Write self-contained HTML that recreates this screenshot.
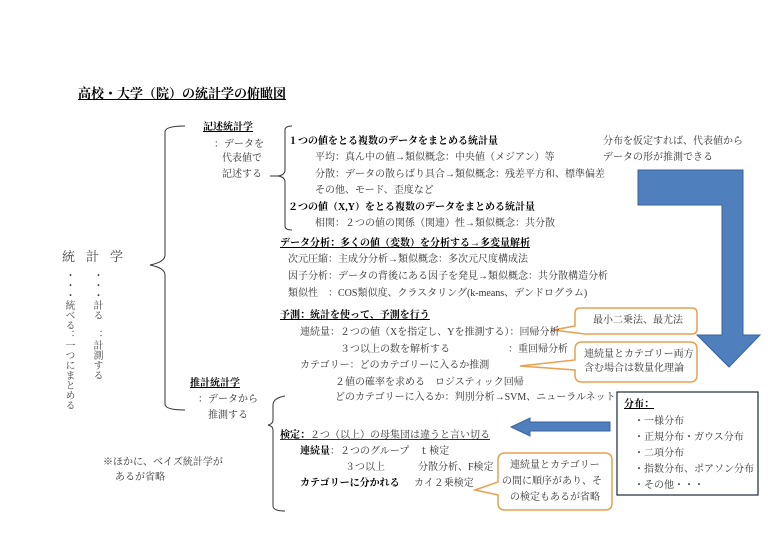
<!DOCTYPE html>
<html><head><meta charset="utf-8"><style>
body{margin:0;width:768px;height:544px;background:#fff;overflow:hidden;position:relative;font-family:"Liberation Serif","Noto Serif CJK SC","Noto Sans CJK JP",serif;color:#333;}
.t{position:absolute;font-size:10px;white-space:nowrap;line-height:12px;}
.b{font-weight:bold;color:#000;}
.u{text-decoration:underline;}
.v{position:absolute;writing-mode:vertical-rl;font-size:10px;line-height:12px;color:#444;letter-spacing:0px;}
svg{position:absolute;left:0;top:0;}
</style></head><body>
<svg width="768" height="544">
<g fill="none" stroke="#333" stroke-width="1">
<path d="M185,126 Q165,126 165,132 L165,255 Q165,262 150,265 Q165,268 165,275 L165,404 Q165,410 185,410"/>
<path d="M292,126 Q285,126 285,130 L285,170 Q285,175 278,176 Q285,177 285,182 L285,226 Q285,230 292,230"/>
<path d="M270,176 L278,176"/>
<path d="M285,396 Q273,398 273,405 L273,420 Q273,424 268,425 Q273,426 273,430 L273,506 Q273,511 285,511"/>
</g>
<polygon points="638,170 743,170 743,335 760,335 729,367 697,335 722,335 722,205 638,205" fill="#4f7fbd" stroke="#3a63a0" stroke-width="1"/>
<polygon points="610,422 530,422 530,418 511,427 530,436 530,431 610,431" fill="#4f7fbd" stroke="#3a63a0" stroke-width="1"/>
<rect x="617" y="392" width="141" height="103" fill="#fff" stroke="#1a2a3a" stroke-width="1.2"/>
<g fill="#fff" stroke="#e8a050" stroke-width="1.5">
<path d="M580,308 H692 Q697,308 697,313 V329 Q697,334 692,334 H585 L553,330 L575,326 V313 Q575,308 580,308 Z"/>
<path d="M582,342 H690 Q697,342 697,349 V375 Q697,382 690,382 H582 Q575,382 575,375 V370 L520,366 L575,360 V349 Q575,342 582,342 Z"/>
<path d="M505,453 H605 Q612,453 612,460 V503 Q612,510 605,510 H505 Q498,510 498,503 V495 L475,490 L498,482 V460 Q498,453 505,453 Z"/>
</g>
</svg>
<div class="t b u" style="left:78px;top:86px;font-size:13px;line-height:15px;">高校・大学（院）の統計学の俯瞰図</div>
<div class="t" style="left:62px;top:249px;font-size:13px;line-height:15px;letter-spacing:11px;color:#444">統計学</div>
<div class="v" style="left:62px;top:270px;">・・・統べる：一つにまとめる</div>
<div class="v" style="left:90px;top:270px;">・・・計る　：計測する</div>

<div class="t b u" style="left:203px;top:122px;">記述統計学</div>
<div class="t" style="left:214px;top:139px;">：データを</div>
<div class="t" style="left:222px;top:153px;">代表値で</div>
<div class="t" style="left:222px;top:169px;">記述する</div>
<div class="t b u" style="left:190px;top:378px;">推計統計学</div>
<div class="t" style="left:198px;top:394px;">：データから</div>
<div class="t" style="left:208px;top:410px;">推測する</div>
<div class="t" style="left:103px;top:457px;">※ほかに、ベイズ統計学が</div>
<div class="t" style="left:115px;top:472px;">あるが省略</div>

<div class="t b" style="left:288px;top:136px;">１つの値をとる複数のデータをまとめる統計量</div>
<div class="t" style="left:315px;top:152px;">平均：真ん中の値→類似概念：中央値（メジアン）等</div>
<div class="t" style="left:315px;top:169px;">分散：データの散らばり具合→類似概念：残差平方和、標準偏差</div>
<div class="t" style="left:315px;top:185px;">その他、モード、歪度など</div>
<div class="t b" style="left:288px;top:202px;">２つの値（X,Y）をとる複数のデータをまとめる統計量</div>
<div class="t" style="left:315px;top:218px;">相関：２つの値の関係（関連）性→類似概念：共分散</div>
<div class="t b u" style="left:280px;top:238px;">データ分析：多くの値（変数）を分析する→多変量解析</div>
<div class="t" style="left:288px;top:254px;">次元圧縮：主成分分析→類似概念：多次元尺度構成法</div>
<div class="t" style="left:288px;top:271px;">因子分析：データの背後にある因子を発見→類似概念：共分散構造分析</div>
<div class="t" style="left:288px;top:288px;">類似性　：COS類似度、クラスタリング(k-means、デンドログラム)</div>
<div class="t b u" style="left:280px;top:310px;">予測：統計を使って、予測を行う</div>
<div class="t" style="left:300px;top:327px;">連続量：２つの値（Xを指定し、Yを推測する）：回帰分析</div>
<div class="t" style="left:340px;top:344px;">３つ以上の数を解析する</div>
<div class="t" style="left:508px;top:344px;">：重回帰分析</div>
<div class="t" style="left:300px;top:360px;">カテゴリー：どのカテゴリーに入るか推測</div>
<div class="t" style="left:335px;top:377px;">２値の確率を求める　ロジスティック回帰</div>
<div class="t" style="left:335px;top:392px;">どのカテゴリーに入るか：判別分析→SVM、ニューラルネット</div>
<div class="t u" style="left:280px;top:430px;"><span class="b">検定：</span>２つ（以上）の母集団は違うと言い切る</div>
<div class="t" style="left:300px;top:446px;"><span class="b">連続量</span>：２つのグループ　ｔ検定</div>
<div class="t" style="left:345px;top:462px;">３つ以上</div>
<div class="t" style="left:418px;top:462px;">分散分析、F検定</div>
<div class="t b" style="left:300px;top:478px;">カテゴリーに分かれる</div>
<div class="t" style="left:414px;top:478px;">カイ２乗検定</div>

<div class="t" style="left:603px;top:136px;">分布を仮定すれば、代表値から</div>
<div class="t" style="left:603px;top:152px;">データの形が推測できる</div>
<div class="t" style="left:593px;top:315px;">最小二乗法、最尤法</div>
<div class="t" style="left:584px;top:349px;">連続量とカテゴリー両方</div>
<div class="t" style="left:584px;top:363px;">含む場合は数量化理論</div>
<div class="t" style="left:510px;top:460px;">連続量とカテゴリー</div>
<div class="t" style="left:502px;top:476px;">の間に順序があり、そ</div>
<div class="t" style="left:510px;top:492px;">の検定もあるが省略</div>

<div class="t b u" style="left:624px;top:399px;">分布：</div>
<div class="t" style="left:634px;top:416px;">・一様分布</div>
<div class="t" style="left:634px;top:432px;">・正規分布・ガウス分布</div>
<div class="t" style="left:634px;top:448px;">・二項分布</div>
<div class="t" style="left:634px;top:464px;">・指数分布、ポアソン分布</div>
<div class="t" style="left:634px;top:480px;">・その他・・・</div>
</body></html>
